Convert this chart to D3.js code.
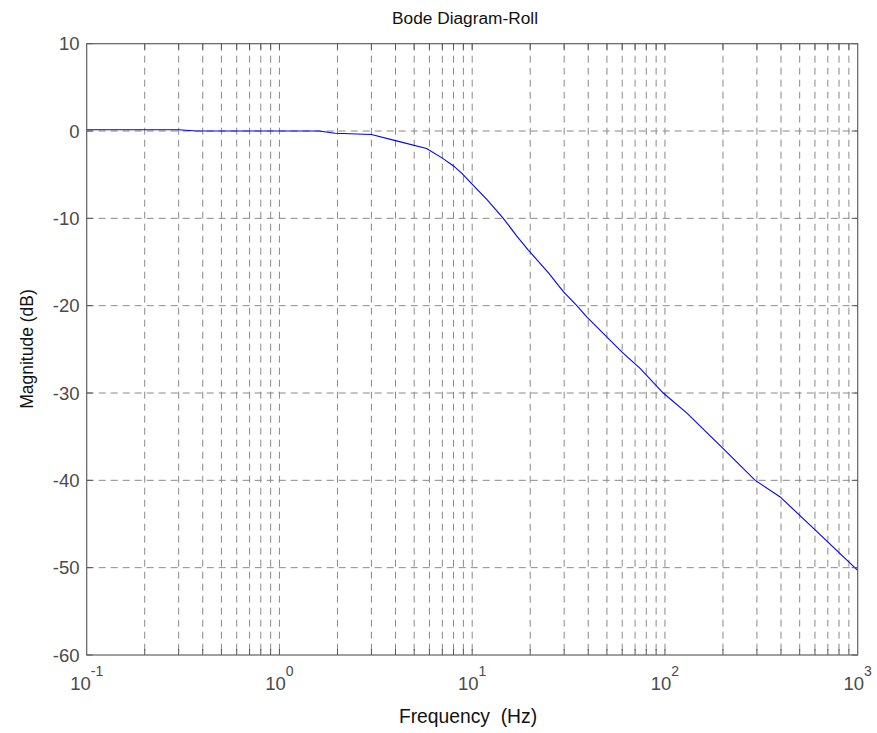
<!DOCTYPE html>
<html>
<head>
<meta charset="utf-8">
<script src="https://cdn.jsdelivr.net/npm/d3@7"></script>
<style>
  html, body { margin: 0; padding: 0; background: #fff; }
  svg { display: block; }
</style>
</head>
<body>
<svg id="chart" width="877" height="733"></svg>
<script>
// ---- data ----
const freqHz = [0.1, 0.3, 0.37, 1.6, 1.95, 3.0, 4.0, 5.8, 7.0, 8.0, 8.9, 10.1, 12, 14.5, 17, 19.5, 25, 29.7, 34.9, 39.4, 49, 59.7, 74.5, 98, 130, 197, 294, 396, 590, 1000];
const magnitudeDb = [0.15, 0.15, 0.0, 0.0, -0.25, -0.4, -1.1, -2.0, -3.1, -4.0, -4.9, -6.2, -7.9, -10.0, -12.0, -13.6, -16.3, -18.4, -20.0, -21.3, -23.4, -25.3, -27.2, -30.0, -32.3, -36.2, -40.0, -41.9, -45.5, -50.3];
const yTicks = [10, 0, -10, -20, -30, -40, -50, -60];
const xTickExponents = [-1, 0, 1, 2, 3];
const titleText = "Bode Diagram-Roll";
const xLabelText = "Frequency  (Hz)";
const yLabelText = "Magnitude (dB)";

// ---- layout ----
const L = 86.7, R = 857.7, T = 43.7, B = 655;
const svg = d3.select("#chart");
const x = d3.scaleLog().domain([0.1, 1000]).range([L, R]);
const y = d3.scaleLinear().domain([-60, 10]).range([B, T]);

const gridColor = "#8a8a8a";
const dash = "7,5";

const gridFreqs = [];
for (let e = -1; e < 3; e++) {
  for (let m = 1; m <= 9; m++) {
    const f = m * Math.pow(10, e);
    if (f > 0.1 && f < 1000) gridFreqs.push(f);
  }
}

const g = svg.append("g");

g.selectAll("line.vg").data(gridFreqs).join("line")
  .attr("x1", d => x(d)).attr("x2", d => x(d))
  .attr("y1", T).attr("y2", B)
  .attr("stroke", gridColor).attr("stroke-width", 1)
  .attr("stroke-dasharray", dash);

g.selectAll("line.hg").data(yTicks.filter(v => v > -60 && v < 10)).join("line")
  .attr("x1", L).attr("x2", R)
  .attr("y1", d => y(d)).attr("y2", d => y(d))
  .attr("stroke", gridColor).attr("stroke-width", 1)
  .attr("stroke-dasharray", dash);

const line = d3.line().x((d, i) => x(freqHz[i])).y(d => y(d));
g.append("path").datum(magnitudeDb)
  .attr("d", line)
  .attr("fill", "none").attr("stroke", "#0000ff").attr("stroke-width", 1.1);

const tickColor = "#555";
const tlen = 6;
g.selectAll("line.xtb").data(gridFreqs).join("line")
  .attr("x1", d => x(d)).attr("x2", d => x(d))
  .attr("y1", B).attr("y2", B - tlen).attr("stroke", tickColor);
g.selectAll("line.xtt").data(gridFreqs).join("line")
  .attr("x1", d => x(d)).attr("x2", d => x(d))
  .attr("y1", T).attr("y2", T + tlen).attr("stroke", tickColor);
g.selectAll("line.ytl").data(yTicks).join("line")
  .attr("x1", L).attr("x2", L + tlen)
  .attr("y1", d => y(d)).attr("y2", d => y(d)).attr("stroke", tickColor);
g.selectAll("line.ytr").data(yTicks).join("line")
  .attr("x1", R).attr("x2", R - tlen)
  .attr("y1", d => y(d)).attr("y2", d => y(d)).attr("stroke", tickColor);

g.append("rect").attr("x", L).attr("y", T).attr("width", R - L).attr("height", B - T)
  .attr("fill", "none").attr("stroke", "#606060").attr("stroke-width", 1.2);

const font = "Arial, 'Liberation Sans', sans-serif";
const tickText = "#4a4a4a";

g.selectAll("text.yl").data(yTicks).join("text")
  .attr("x", 79.5).attr("y", d => y(d))
  .attr("text-anchor", "end").attr("dominant-baseline", "central")
  .attr("font-family", font).attr("font-size", 18.5).attr("fill", tickText)
  .text(d => d);

const xl = g.selectAll("text.xl").data(xTickExponents).join("text")
  .attr("x", d => x(Math.pow(10, d))).attr("y", 690)
  .attr("text-anchor", "middle")
  .attr("font-family", font).attr("font-size", 18.5).attr("fill", tickText);
xl.append("tspan").text("10");
xl.append("tspan").attr("font-size", 14).attr("dy", -14).text(d => d);

svg.append("text").attr("x", 465).attr("y", 24)
  .attr("text-anchor", "middle").attr("font-family", font).attr("font-size", 17.3)
  .attr("fill", "#111").text(titleText);

svg.append("text").attr("x", 468).attr("y", 723)
  .attr("text-anchor", "middle").attr("font-family", font).attr("font-size", 19.3)
  .attr("fill", "#111").style("white-space", "pre").text(xLabelText);

svg.append("text").attr("transform", "translate(33,349) rotate(-90)")
  .attr("text-anchor", "middle").attr("font-family", font).attr("font-size", 17.5)
  .attr("fill", "#111").text(yLabelText);
</script>
</body>
</html>
